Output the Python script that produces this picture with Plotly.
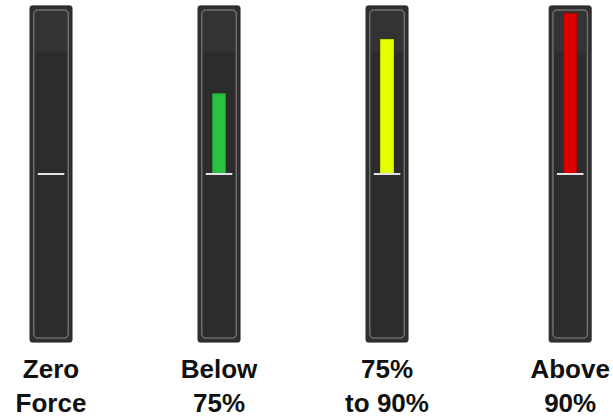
import plotly.graph_objects as go

# gauge readings, % of rated force (zero line = 0, full scale = 100)
labels = ["Zero<br>Force", "Below<br>75%", "75%<br>to 90%", "Above<br>90%"]
force_pct = [0, 49, 82, 98]
bar_colors = ["#2bc244", "#e4ff00", "#dd0000"]
bar_edges = ["#1c9a32", "#c8e000", "#a80000"]

# layout: slot position of each gauge along the row
slot_x = [0, 1, 2, 3.09]
scale_min, scale_max = -100, 100

fig = go.Figure()

# outer housing
fig.add_trace(go.Bar(
    x=slot_x, y=[scale_max - scale_min + 5] * 4, base=scale_min - 2.5,
    width=0.25, marker=dict(color="#303030", line=dict(color="#262626", width=1),
                            cornerradius=2),
    hoverinfo="skip", showlegend=False,
))
# inner panel with light rim
fig.add_trace(go.Bar(
    x=slot_x, y=[scale_max - scale_min] * 4, base=scale_min,
    width=0.205, marker=dict(color="#2c2c2c", line=dict(color="#6e6e6e", width=1.5),
                             cornerradius=4),
    hoverinfo="skip", showlegend=False,
))
# upper gloss
fig.add_trace(go.Bar(
    x=slot_x, y=[26] * 4, base=scale_max - 26,
    width=0.19, marker=dict(color="rgba(255,255,255,0.035)", line=dict(width=0)),
    hoverinfo="skip", showlegend=False,
))
# force bars
fig.add_trace(go.Bar(
    x=slot_x[1:], y=force_pct[1:], base=0,
    width=0.077, marker=dict(color=bar_colors, line=dict(color=bar_edges, width=1)),
    hoverinfo="skip", showlegend=False,
))
# zero reference line
fig.add_trace(go.Scatter(
    x=slot_x, y=[0] * 4, mode="markers",
    marker=dict(symbol="line-ew", size=19, line=dict(color="#e2e2e2", width=2)),
    hoverinfo="skip", showlegend=False,
))

fig.update_layout(
    width=613, height=417,
    margin=dict(l=0, r=0, t=0, b=72),
    barmode="overlay",
    paper_bgcolor="white", plot_bgcolor="white",
    xaxis=dict(range=[-0.3036, 3.345], tickvals=slot_x, ticktext=labels,
               showgrid=False, zeroline=False, showline=False, ticks="",
               ticklabelstandoff=6,
               tickfont=dict(family="Liberation Sans, Arial", size=26,
                             color="#111111", weight="bold")),
    yaxis=dict(range=[-104.3, 106.1], visible=False, showgrid=False, zeroline=False),
)

# drop the default page margin so the figure sits at the window corner
fig.write_html("out.html", config={"displayModeBar": False},
               post_script="document.body.style.margin='0';")
